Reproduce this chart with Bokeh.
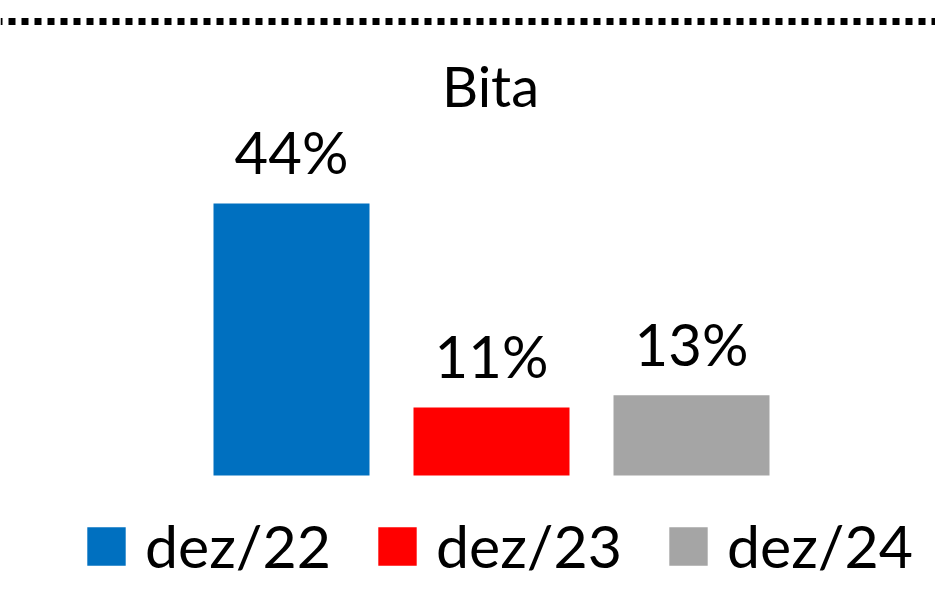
from bokeh.plotting import figure
from bokeh.models import ColumnDataSource, Range1d, Span, Label
from bokeh.embed import file_html
from bokeh.resources import INLINE
from bokeh.core.properties import value

# ---- data ----
title_text = "Bita"
categories = ["dez/22", "dez/23", "dez/24"]
values = [44, 11, 13]
labels = ["44%", "11%", "13%"]
colors = ["#0070C0", "#FF0000", "#A5A5A5"]

FONT = "Lato"

src = ColumnDataSource(dict(
    x=list(range(len(categories))),
    top=values,
    cat=categories,
    lab=labels,
    color=colors,
))

W, H = 935, 581
PX_PER_UNIT = 6.18
BASE_Y = 475
p = figure(width=W, height=H, output_backend="svg", toolbar_location=None,
           x_axis_type=None, y_axis_type=None, min_border=0,
           x_range=Range1d(-291 / 200, -291 / 200 + W / 200),
           y_range=Range1d(-(H - BASE_Y) / PX_PER_UNIT, BASE_Y / PX_PER_UNIT))
p.outline_line_color = None
p.grid.visible = False
p.background_fill_color = "white"
p.border_fill_color = "white"

r = p.vbar(x="x", top="top", bottom=0, width=0.78, fill_color="color",
           line_color=None, source=src, legend_field="cat")

p.text(x="x", y="top", text="lab", source=src, text_align="center",
       text_baseline="alphabetic", y_offset=-52, text_font=value(FONT),
       text_font_size="58px", text_color="#000000")

# title
p.add_layout(Label(x=490, y=496, x_units="screen", y_units="screen",
                   text=title_text, text_align="center", text_baseline="alphabetic",
                   text_font=FONT, text_font_size="56px", text_color="#000000"))

# dotted line at top
p.add_layout(Span(location=73.46, dimension="width", line_color="#000000",
                  line_width=7, line_dash="7 6", line_dash_offset=5))

leg = p.legend[0]
leg.orientation = "horizontal"
leg.location = (82, 0)
leg.glyph_width = 48
leg.glyph_height = 48
leg.label_standoff = 15
leg.spacing = 42
leg.padding = 0
leg.margin = 0
leg.border_line_color = None
leg.background_fill_alpha = 0
leg.label_text_font = FONT
leg.label_text_font_size = "59px"
leg.label_text_color = "#000000"

open("out.html", "w").write(file_html(p, INLINE))
